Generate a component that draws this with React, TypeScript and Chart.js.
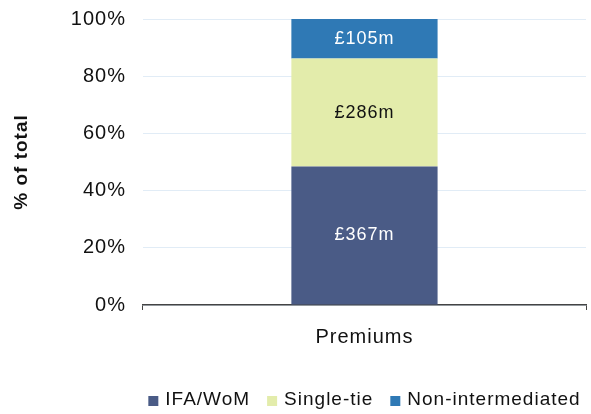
import React, { useEffect, useRef } from "react";
import { Chart, registerables } from "chart.js";

Chart.register(...registerables);

const categories = ["Premiums"];
const seriesNames = ["IFA/WoM", "Single-tie", "Non-intermediated"];
const seriesValues = [367, 286, 105];
const seriesLabels = ["£367m", "£286m", "£105m"];
const seriesColors = ["#4a5b86", "#e3ecab", "#2f79b5"];
const labelColors = ["#ffffff", "#111111", "#ffffff"];
const yTicks = [0, 20, 40, 60, 80, 100];

const FONT = "'Liberation Sans', Arial, sans-serif";
const SPACING = "1px";

const setSpacing = (chart: any) => {
  (chart.ctx as any).letterSpacing = SPACING;
};

const spacingPlugin = {
  id: "spacing",
  beforeInit: setSpacing,
  beforeUpdate: setSpacing,
  beforeDraw: setSpacing,
};

const labelPlugin = {
  id: "barLabels",
  afterDatasetsDraw(chart: any) {
    const ctx = chart.ctx;
    ctx.save();
    (ctx as any).letterSpacing = SPACING;
    ctx.font = `18px ${FONT}`;
    ctx.textAlign = "center";
    ctx.textBaseline = "middle";
    chart.data.datasets.forEach((ds: any, i: number) => {
      const meta = chart.getDatasetMeta(i);
      meta.data.forEach((el: any) => {
        const y = (el.y + el.base) / 2;
        ctx.fillStyle = labelColors[i];
        ctx.fillText(seriesLabels[i], el.x, y);
      });
    });
    ctx.restore();
  },
};

const legendPlugin = {
  id: "customLegend",
  afterDraw(chart: any) {
    const ctx = chart.ctx;
    const area = chart.chartArea;
    ctx.save();
    (ctx as any).letterSpacing = SPACING;
    ctx.font = `19px ${FONT}`;
    ctx.textBaseline = "middle";
    ctx.textAlign = "left";
    const box = 10;
    const gapBoxText = 7;
    const gapItems = 17;
    const widths = seriesNames.map((n) => ctx.measureText(n).width);
    const total =
      widths.reduce((a, b) => a + b, 0) +
      seriesNames.length * (box + gapBoxText) +
      (seriesNames.length - 1) * gapItems;
    let x = (area.left + area.right) / 2 - total / 2;
    const y = chart.height - 14;
    seriesNames.forEach((n, i) => {
      ctx.fillStyle = seriesColors[i];
      ctx.fillRect(x, y - box / 2 + 1, box, box);
      x += box + gapBoxText;
      ctx.fillStyle = "#111";
      ctx.fillText(n, x, y);
      x += widths[i] + gapItems;
    });
    ctx.restore();
  },
};

export default function App() {
  const ref = useRef<HTMLCanvasElement | null>(null);
  useEffect(() => {
    if (!ref.current) return;
    const total = seriesValues.reduce((a, b) => a + b, 0);
    const chart = new Chart(ref.current, {
      type: "bar",
      data: {
        labels: categories,
        datasets: seriesNames.map((name, i) => ({
          label: name,
          data: [(seriesValues[i] / total) * 100],
          backgroundColor: seriesColors[i],
          borderWidth: 0,
          categoryPercentage: 1,
          barPercentage: 0.33,
        })),
      },
      options: {
        animation: false,
        responsive: false,
        maintainAspectRatio: false,
        layout: { padding: { left: 10, right: 5, top: 19, bottom: 65 } },
        plugins: {
          tooltip: { enabled: false },
          legend: { display: false },
        },
        scales: {
          x: {
            stacked: true,
            grid: {
              display: true,
              drawOnChartArea: false,
              tickLength: 5,
              color: "#444",
            },
            border: { display: true, color: "#444", width: 1.5 },
            ticks: {
              color: "#111",
              font: { family: FONT, size: 20 },
              padding: 15,
            },
            afterFit: (scale: any) => {
              scale.height = 44;
            },
          },
          y: {
            stacked: true,
            min: 0,
            max: 100,
            afterBuildTicks: (scale: any) => {
              scale.ticks = yTicks.map((v) => ({ value: v }));
            },
            afterFit: (scale: any) => {
              scale.paddingTop = 0;
              scale.paddingBottom = 0;
            },
            grid: { color: "#e1ecf6", drawTicks: false },
            border: { display: false },
            ticks: {
              color: "#111",
              font: { family: FONT, size: 20 },
              padding: 17,
              callback: (v: any) => v + "%",
            },
            title: {
              display: true,
              text: "% of total",
              color: "#111",
              font: { family: FONT, size: 19, weight: "bold" },
              padding: { top: 0, bottom: 21 },
            },
          },
        },
      },
      plugins: [spacingPlugin, labelPlugin, legendPlugin],
    });
    return () => chart.destroy();
  }, []);
  return (
    <div style={{ position: "fixed", left: 0, top: 0, width: 591, height: 414, background: "#fff" }}>
      <canvas ref={ref} width={591} height={414} style={{ width: 591, height: 414 }} />
    </div>
  );
}
